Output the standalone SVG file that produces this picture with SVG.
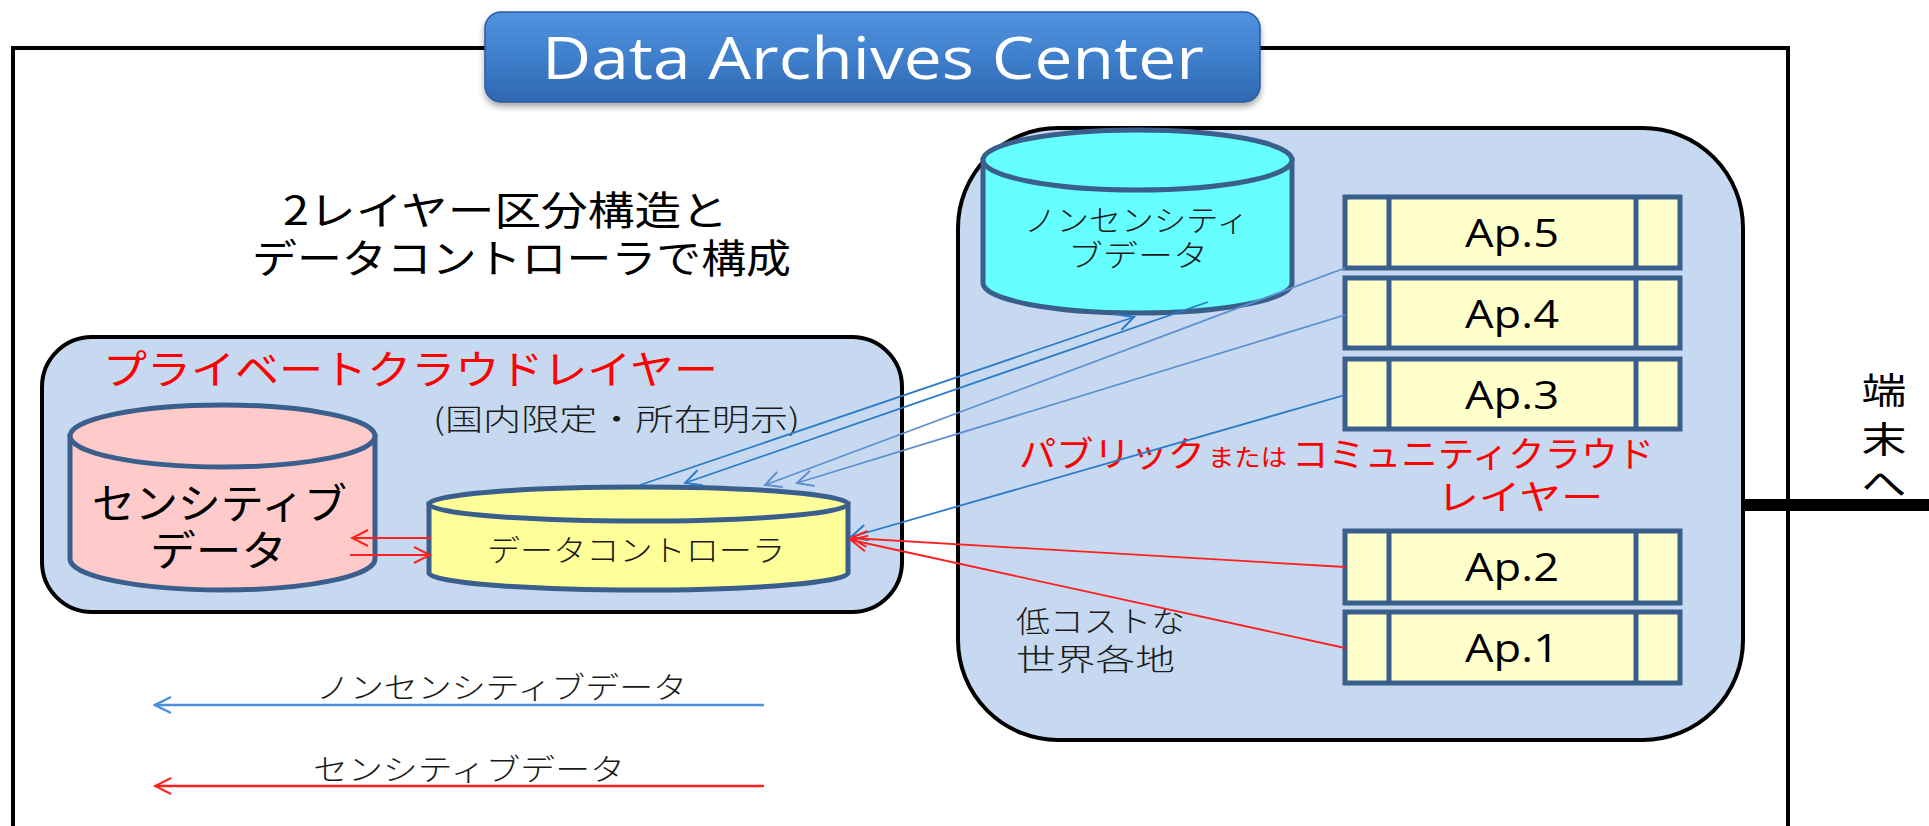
<svg xmlns="http://www.w3.org/2000/svg" width="1929" height="826" viewBox="0 0 1929 826">
  <defs>
    <linearGradient id="titleGrad" x1="0" y1="0" x2="0" y2="1">
      <stop offset="0" stop-color="#5193e0"/>
      <stop offset="0.5" stop-color="#3f7fcc"/>
      <stop offset="1" stop-color="#2f67b2"/>
    </linearGradient>
    <filter id="shadow" x="-5%" y="-20%" width="110%" height="150%">
      <feDropShadow dx="0" dy="4" stdDeviation="3" flood-color="#000" flood-opacity="0.35"/>
    </filter>
    <marker id="headBlue" viewBox="0 0 20 20" refX="18" refY="10" markerWidth="20" markerHeight="20" markerUnits="userSpaceOnUse" orient="auto">
      <path d="M2,2 L18,10 L2,18" fill="none" stroke="#2b7bc8" stroke-width="2"/>
    </marker>
    <marker id="headBlueLt" viewBox="0 0 20 20" refX="18" refY="10" markerWidth="20" markerHeight="20" markerUnits="userSpaceOnUse" orient="auto">
      <path d="M2,2 L18,10 L2,18" fill="none" stroke="#5f8fd0" stroke-width="2"/>
    </marker>
    <marker id="headLegendBlue" viewBox="0 0 20 20" refX="18" refY="10" markerWidth="20" markerHeight="20" markerUnits="userSpaceOnUse" orient="auto">
      <path d="M2,2 L18,10 L2,18" fill="none" stroke="#4a90d9" stroke-width="2.5"/>
    </marker>
    <marker id="headRed" viewBox="0 0 20 20" refX="18" refY="10" markerWidth="20" markerHeight="20" markerUnits="userSpaceOnUse" orient="auto">
      <path d="M2,2 L18,10 L2,18" fill="none" stroke="#ff2020" stroke-width="2"/>
    </marker>
  </defs>
  <style>
    .frame { fill: none; stroke: #000; stroke-width: 4; }
    .layer { fill: #c6d9f0; stroke: #000; stroke-width: 4; }
    .cyl { stroke: #3b5f8c; stroke-width: 5; }
    .ap { fill: #ffffcc; stroke: #3b5f8c; stroke-width: 5; }
    .apdiv { stroke: #3b5f8c; stroke-width: 5; }
    .jp { font-family: "Noto Sans CJK JP", "Noto Sans", sans-serif; }
    .thin { font-weight: 300; fill: #1a1a1a; }
    .red { fill: #ff0000; }
    .lat { font-family: "Open Sans", "Liberation Sans", sans-serif; }
    .aptxt { font-size: 38px; fill: #000; text-anchor: middle; }
    .lnBlue { fill: none; stroke: #2b7bc8; stroke-width: 1.8; }
    .lnBlueLt { fill: none; stroke: #5f8fd0; stroke-width: 1.8; }
    .lnRed { fill: none; stroke: #ff2020; stroke-width: 1.8; }
  </style>

  <rect width="1929" height="826" fill="#fff"/>

  <!-- outer centre frame, open at the bottom -->
  <path class="frame" d="M13,830 L13,48 L1788,48 L1788,830"/>

  <!-- line out to the terminals -->
  <line x1="1741" y1="505" x2="1929" y2="505" stroke="#000" stroke-width="12"/>
  <g class="jp" font-size="36" text-anchor="middle" fill="#000">
    <text x="1884" y="404" textLength="45" lengthAdjust="spacingAndGlyphs">端</text>
    <text x="1884" y="453" textLength="45" lengthAdjust="spacingAndGlyphs">末</text>
    <text x="1884" y="497" textLength="45" lengthAdjust="spacingAndGlyphs">へ</text>
  </g>

  <!-- title banner -->
  <g id="title">
    <rect x="485" y="12" width="775" height="90" rx="16" fill="url(#titleGrad)" stroke="#2a5a9c" stroke-width="1.5" filter="url(#shadow)"/>
    <text class="lat" x="542" y="79" font-size="59" fill="#fff" textLength="662" lengthAdjust="spacingAndGlyphs">Data Archives Center</text>
  </g>

  <!-- heading -->
  <g id="heading" class="jp" font-size="40" fill="#000">
    <text x="283" y="225" textLength="445" lengthAdjust="spacingAndGlyphs">2レイヤー区分構造と</text>
    <text x="252" y="273" textLength="539" lengthAdjust="spacingAndGlyphs">データコントローラで構成</text>
  </g>

  <!-- private cloud layer -->
  <g id="private-layer">
    <rect class="layer" x="42" y="337" width="860" height="275" rx="50"/>
    <text class="jp red" x="103" y="384" font-size="40" textLength="615" lengthAdjust="spacingAndGlyphs">プライベートクラウドレイヤー</text>
    <text class="jp thin" x="433" y="430" font-size="30" textLength="367" lengthAdjust="spacingAndGlyphs">(国内限定・所在明示)</text>
  </g>

  <!-- public / community cloud layer -->
  <g id="public-layer">
    <rect class="layer" x="958" y="128" width="785" height="612" rx="100"/>
    <text class="jp red" x="1019" y="467" font-size="35" textLength="186" lengthAdjust="spacingAndGlyphs">パブリック</text>
    <text class="jp red" x="1208" y="466" font-size="24" textLength="79" lengthAdjust="spacingAndGlyphs">または</text>
    <text class="jp red" x="1292" y="467" font-size="35" textLength="362" lengthAdjust="spacingAndGlyphs">コミュニティクラウド</text>
    <text class="jp red" x="1437" y="510" font-size="35" textLength="166" lengthAdjust="spacingAndGlyphs">レイヤー</text>
    <text class="jp thin" x="1016" y="632" font-size="30" textLength="169" lengthAdjust="spacingAndGlyphs">低コストな</text>
    <text class="jp thin" x="1016" y="670" font-size="30" textLength="159" lengthAdjust="spacingAndGlyphs">世界各地</text>
  </g>

  <!-- sensitive data store -->
  <g id="sensitive-data">
    <path class="cyl" fill="#ffcaca" d="M70,436 L70,559 A152.5,31 0 0 0 375,559 L375,436 Z"/>
    <ellipse class="cyl" fill="#ffcaca" cx="222.5" cy="436" rx="152.5" ry="31"/>
    <text class="jp" x="92" y="519" font-size="42" fill="#000" textLength="255" lengthAdjust="spacingAndGlyphs">センシティブ</text>
    <text class="jp" x="150" y="566" font-size="42" fill="#000" textLength="137" lengthAdjust="spacingAndGlyphs">データ</text>
  </g>

  <!-- data controller -->
  <g id="data-controller">
    <path class="cyl" fill="#ffff99" d="M429,504 L429,573 A209.5,17 0 0 0 848,573 L848,504 Z"/>
    <ellipse class="cyl" fill="#ffff99" cx="638.5" cy="504" rx="209.5" ry="17"/>
    <text class="jp thin" x="487" y="561" font-size="30" textLength="298" lengthAdjust="spacingAndGlyphs">データコントローラ</text>
  </g>

  <!-- non-sensitive data store -->
  <g id="nonsensitive-data">
    <path class="cyl" fill="#66ffff" d="M983,160 L983,283 A154.5,30 0 0 0 1292,283 L1292,160 Z"/>
    <ellipse class="cyl" fill="#66ffff" cx="1137.5" cy="160" rx="154.5" ry="30"/>
    <text class="jp thin" x="1024" y="231" font-size="30" textLength="225" lengthAdjust="spacingAndGlyphs">ノンセンシティ</text>
    <text class="jp thin" x="1068" y="266" font-size="30" textLength="140" lengthAdjust="spacingAndGlyphs">ブデータ</text>
  </g>

  <!-- applications -->
  <g id="ap5">
    <rect class="ap" x="1345" y="197" width="335" height="71"/>
    <line class="apdiv" x1="1389" y1="197" x2="1389" y2="268"/>
    <line class="apdiv" x1="1636" y1="197" x2="1636" y2="268"/>
    <text class="lat aptxt" x="1512" y="247" textLength="94" lengthAdjust="spacingAndGlyphs">Ap.5</text>
  </g>
  <g id="ap4">
    <rect class="ap" x="1345" y="278" width="335" height="70"/>
    <line class="apdiv" x1="1389" y1="278" x2="1389" y2="348"/>
    <line class="apdiv" x1="1636" y1="278" x2="1636" y2="348"/>
    <text class="lat aptxt" x="1512" y="328" textLength="94" lengthAdjust="spacingAndGlyphs">Ap.4</text>
  </g>
  <g id="ap3">
    <rect class="ap" x="1345" y="359" width="335" height="70"/>
    <line class="apdiv" x1="1389" y1="359" x2="1389" y2="429"/>
    <line class="apdiv" x1="1636" y1="359" x2="1636" y2="429"/>
    <text class="lat aptxt" x="1512" y="409" textLength="94" lengthAdjust="spacingAndGlyphs">Ap.3</text>
  </g>
  <g id="ap2">
    <rect class="ap" x="1345" y="531" width="335" height="72"/>
    <line class="apdiv" x1="1389" y1="531" x2="1389" y2="603"/>
    <line class="apdiv" x1="1636" y1="531" x2="1636" y2="603"/>
    <text class="lat aptxt" x="1512" y="581" textLength="94" lengthAdjust="spacingAndGlyphs">Ap.2</text>
  </g>
  <g id="ap1">
    <rect class="ap" x="1345" y="612" width="335" height="71"/>
    <line class="apdiv" x1="1389" y1="612" x2="1389" y2="683"/>
    <line class="apdiv" x1="1636" y1="612" x2="1636" y2="683"/>
    <text class="lat aptxt" x="1512" y="662" textLength="94" lengthAdjust="spacingAndGlyphs">Ap.1</text>
  </g>

  <!-- data flows -->
  <g id="connectors">
    <line class="lnBlue" x1="640" y1="485" x2="1134" y2="317" marker-end="url(#headBlue)"/>
    <line class="lnBlue" x1="1208" y1="302" x2="685" y2="483" marker-end="url(#headBlue)"/>
    <line class="lnBlueLt" x1="1345" y1="268" x2="765" y2="485" marker-end="url(#headBlueLt)"/>
    <line class="lnBlueLt" x1="1345" y1="315" x2="797" y2="483" marker-end="url(#headBlueLt)"/>
    <line class="lnBlue" x1="1345" y1="395" x2="851" y2="537" marker-end="url(#headBlue)"/>
    <line class="lnRed" x1="1345" y1="567" x2="851" y2="538" marker-end="url(#headRed)"/>
    <line class="lnRed" x1="1345" y1="648" x2="851" y2="540" marker-end="url(#headRed)"/>
    <line class="lnRed" x1="431" y1="538" x2="352" y2="538" marker-end="url(#headRed)"/>
    <line class="lnRed" x1="350" y1="555" x2="430" y2="555" marker-end="url(#headRed)"/>
  </g>

  <!-- legend -->
  <g id="legend">
    <line x1="764" y1="705" x2="155" y2="705" stroke="#4a90d9" stroke-width="2.5" marker-end="url(#headLegendBlue)"/>
    <text class="jp thin" x="316" y="698" font-size="30" textLength="371" lengthAdjust="spacingAndGlyphs">ノンセンシティブデータ</text>
    <line x1="764" y1="786" x2="155" y2="786" stroke="#ff2020" stroke-width="2.5" marker-end="url(#headRed)"/>
    <text class="jp thin" x="313" y="780" font-size="30" textLength="312" lengthAdjust="spacingAndGlyphs">センシティブデータ</text>
  </g>
</svg>
